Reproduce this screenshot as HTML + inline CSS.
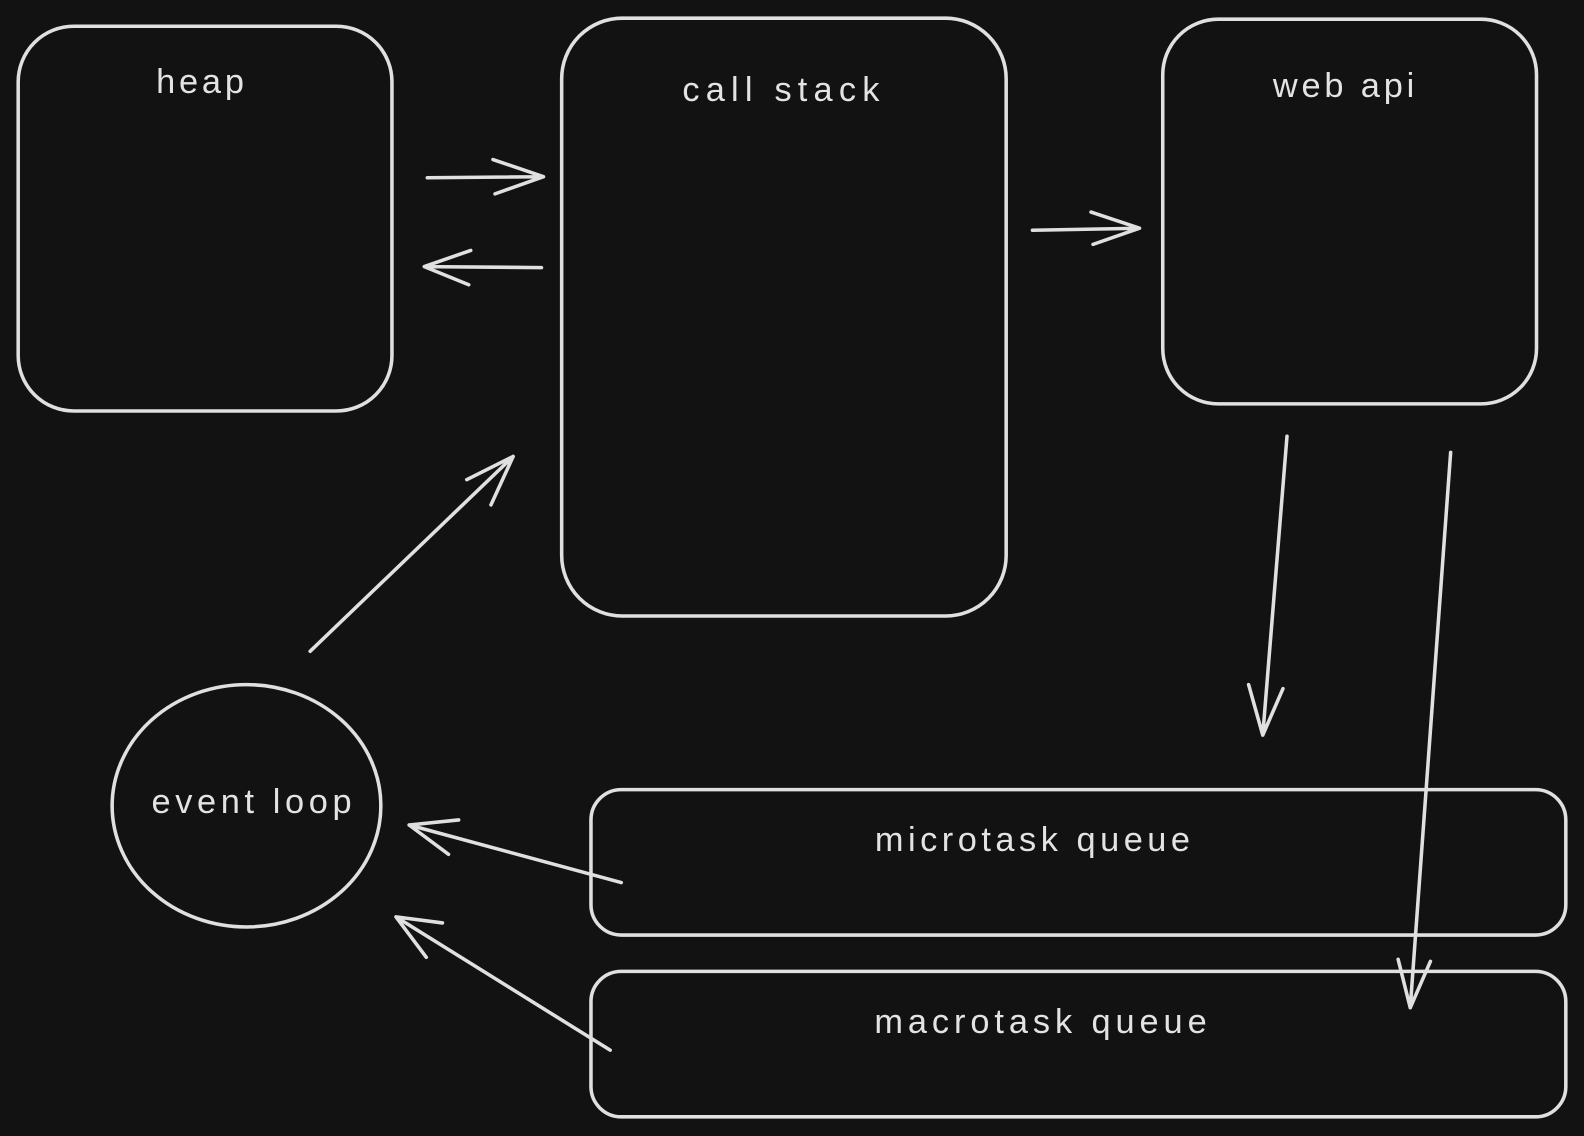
<!DOCTYPE html>
<html><head><meta charset="utf-8"><style>
html,body{margin:0;padding:0;background:#121212;}
svg{display:block}
text{font-family:"Liberation Sans",sans-serif;fill:#e3e3e3;font-size:34px;text-anchor:middle;}
</style></head><body>
<svg width="1584" height="1136" viewBox="0 0 1568 1125" preserveAspectRatio="none" xmlns="http://www.w3.org/2000/svg">
<rect width="1568" height="1125" fill="#121212"/>
<g fill="none" stroke="#e0e0e0" stroke-width="3.5" stroke-linecap="round" stroke-linejoin="round">
<rect x="18" y="26" width="370" height="381" rx="55"/>
<rect x="556" y="18" width="440" height="592" rx="60"/>
<rect x="1151" y="19" width="370" height="381" rx="55"/>
<rect x="585" y="782" width="965" height="144" rx="30"/>
<rect x="585" y="962" width="965" height="144" rx="30"/>
<ellipse cx="244" cy="798" rx="133" ry="120"/>
<path d="M423 176 L538 175 M488 158 L538 175 L490 192"/>
<path d="M536 265 L420 264 M466 248 L420 264 L464 282"/>
<path d="M1022 228 L1128 226 M1080 210 L1128 226 L1082 242"/>
<path d="M307 645 L508 452 M462 475 L508 452 L486 500"/>
<path d="M1274 432 L1250 728 M1236 678 L1250 728 L1270 682"/>
<path d="M1436 448 L1396 998 M1384 950 L1396 998 L1416 952"/>
<path d="M615 874 L405 817 M454 812 L405 817 L444 846"/>
<path d="M604 1040 L392 908 M438 914 L392 908 L422 948"/>
</g>
<text x="198" y="92" textLength="87" lengthAdjust="spacing">heap</text>
<text x="773" y="100" textLength="195" lengthAdjust="spacing">call stack</text>
<text x="1330" y="96" textLength="140" lengthAdjust="spacing">web api</text>
<text x="249" y="805" textLength="198" lengthAdjust="spacing">event loop</text>
<text x="1022" y="843" textLength="312" lengthAdjust="spacing">microtask queue</text>
<text x="1030" y="1023" textLength="329" lengthAdjust="spacing">macrotask queue</text>
</svg>
</body></html>
